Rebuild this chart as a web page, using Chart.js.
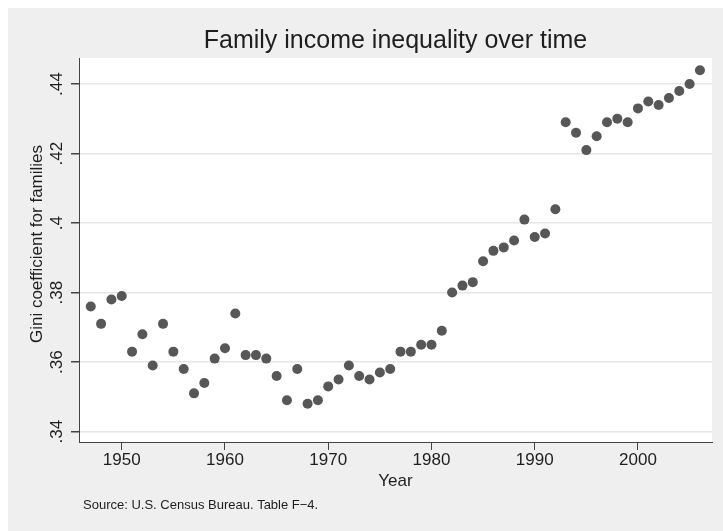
<!DOCTYPE html>
<html>
<head>
<meta charset="utf-8">
<script src="https://cdn.jsdelivr.net/npm/chart.js@4"></script>
<style>
  html, body { margin: 0; padding: 0; background: #fff; }
  canvas { display: block; }
</style>
</head>
<body>
<canvas id="chart" width="723" height="531"></canvas>
<script>
// Census Table F-4, Gini for families
const years = [1947, 1948, 1949, 1950, 1951, 1952, 1953, 1954, 1955, 1956,
  1957, 1958, 1959, 1960, 1961, 1962, 1963, 1964, 1965, 1966,
  1967, 1968, 1969, 1970, 1971, 1972, 1973, 1974, 1975, 1976,
  1977, 1978, 1979, 1980, 1981, 1982, 1983, 1984, 1985, 1986,
  1987, 1988, 1989, 1990, 1991, 1992, 1993, 1994, 1995, 1996,
  1997, 1998, 1999, 2000, 2001, 2002, 2003, 2004, 2005, 2006];
const gini = [0.376, 0.371, 0.378, 0.379, 0.363, 0.368, 0.359, 0.371, 0.363, 0.358,
  0.351, 0.354, 0.361, 0.364, 0.374, 0.362, 0.362, 0.361, 0.356, 0.349,
  0.358, 0.348, 0.349, 0.353, 0.355, 0.359, 0.356, 0.355, 0.357, 0.358,
  0.363, 0.363, 0.365, 0.365, 0.369, 0.380, 0.382, 0.383, 0.389, 0.392,
  0.393, 0.395, 0.401, 0.396, 0.397, 0.404, 0.429, 0.426, 0.421, 0.425,
  0.429, 0.430, 0.429, 0.433, 0.435, 0.434, 0.436, 0.438, 0.440, 0.444];
const xTicks = [1950, 1960, 1970, 1980, 1990, 2000];
const yTicks = [0.34, 0.36, 0.38, 0.40, 0.42, 0.44];
const yTickLabels = ['.34', '.36', '.38', '.4', '.42', '.44'];

const FONT = "'Liberation Sans', Arial, sans-serif";

const stataLook = {
  id: 'stataLook',
  beforeDraw(chart) {
    const ctx = chart.ctx;
    const a = chart.chartArea;
    ctx.save();
    ctx.fillStyle = '#ffffff';
    ctx.fillRect(0, 0, chart.width, chart.height);
    ctx.fillStyle = '#efefef';
    ctx.fillRect(8, 8, chart.width - 8, chart.height - 8);
    ctx.fillStyle = '#ffffff';
    ctx.fillRect(a.left, a.top, a.right - a.left, a.bottom - a.top);
    ctx.restore();
  },
  afterDraw(chart) {
    const ctx = chart.ctx;
    const a = chart.chartArea;
    const ys = chart.scales.y;
    ctx.save();
    ctx.fillStyle = '#1e1e1e';
    ctx.textAlign = 'center';
    ctx.textBaseline = 'middle';

    // rotated y tick labels
    ctx.font = '17px ' + FONT;
    yTicks.forEach((v, i) => {
      ctx.save();
      ctx.translate(57, ys.getPixelForValue(v));
      ctx.rotate(-Math.PI / 2);
      ctx.fillText(yTickLabels[i], 0, 0);
      ctx.restore();
    });

    // title
    ctx.font = '25px ' + FONT;
    ctx.fillText('Family income inequality over time', (a.left + a.right) / 2, 41);

    // axis titles
    ctx.font = '17px ' + FONT;
    ctx.fillText('Year', (a.left + a.right) / 2, 481);
    ctx.save();
    ctx.translate(37, 244);
    ctx.rotate(-Math.PI / 2);
    ctx.fillText('Gini coefficient for families', 0, 0);
    ctx.restore();

    // note
    ctx.font = '13px ' + FONT;
    ctx.textAlign = 'left';
    ctx.fillText('Source: U.S. Census Bureau. Table F\u22124.', 83, 505);
    ctx.restore();
  }
};

new Chart(document.getElementById('chart'), {
  type: 'scatter',
  data: {
    datasets: [{
      data: years.map((yr, i) => ({ x: yr, y: gini[i] })),
      backgroundColor: '#575757',
      borderWidth: 0,
      pointRadius: 5,
      pointHoverRadius: 5
    }]
  },
  options: {
    responsive: false,
    animation: false,
    layout: { padding: { left: 0, top: 58, right: 11, bottom: 0 } },
    plugins: {
      legend: { display: false },
      tooltip: { enabled: false }
    },
    scales: {
      x: {
        type: 'linear',
        min: 1945.86,
        max: 2007.17,
        afterBuildTicks: s => { s.ticks = xTicks.map(v => ({ value: v })); },
        afterFit: s => { s.height = 89; },
        grid: { drawOnChartArea: false, tickLength: 8, tickColor: '#444', lineWidth: 1 },
        border: { color: '#444', width: 1 },
        ticks: {
          maxRotation: 0,
          padding: 0,
          color: '#1e1e1e',
          font: { family: FONT, size: 17 },
          callback: v => String(v)
        }
      },
      y: {
        min: 0.337,
        max: 0.4475,
        afterBuildTicks: s => { s.ticks = yTicks.map(v => ({ value: v })); },
        afterFit: s => { s.width = 79; },
        grid: { color: '#e6e6e6', lineWidth: 1.5, tickLength: 8, tickColor: '#444' },
        border: { color: '#444', width: 1 },
        ticks: { display: false }
      }
    }
  },
  plugins: [stataLook]
});
</script>
</body>
</html>
